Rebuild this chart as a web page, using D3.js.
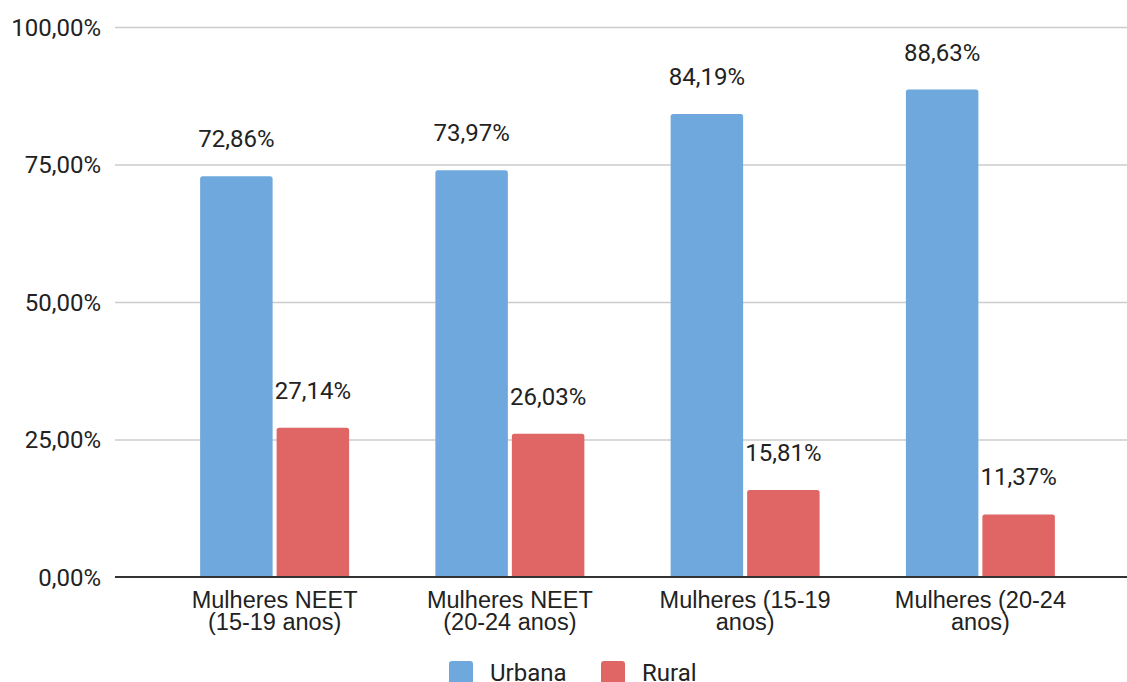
<!DOCTYPE html>
<html>
<head>
<meta charset="utf-8">
<script src="https://cdn.jsdelivr.net/npm/d3@7"></script>
<style>
  html, body { margin: 0; padding: 0; background: #fff; }
  svg { display: block; font-family: Roboto, "Noto Sans", sans-serif; }
</style>
</head>
<body>
<svg id="chart" width="1127" height="682"></svg>
<script>
// Categories (with their wrapped axis label lines)
const categories = ["Mulheres NEET (15-19 anos)", "Mulheres NEET (20-24 anos)", "Mulheres (15-19 anos)", "Mulheres (20-24 anos)"];
const categoryLines = [
  ["Mulheres NEET", "(15-19 anos)"],
  ["Mulheres NEET", "(20-24 anos)"],
  ["Mulheres (15-19", "anos)"],
  ["Mulheres (20-24", "anos)"]
];
const seriesNames = ["Urbana", "Rural"];
const urbana = [72.86, 73.97, 84.19, 88.63];
const rural = [27.14, 26.03, 15.81, 11.37];
const yTicks = [0, 25, 50, 75, 100];
const colors = ["#6fa8dc", "#e06666"];

const fmt = v => v.toFixed(2).replace(".", ",") + "%";
const FS = 24;

const svg = d3.select("#chart");
const gridLeft = 115, gridRight = 1127;

const y = d3.scaleLinear().domain([0, 100]).range([577, 27]);
const x0 = d3.scaleBand().domain(categories).range([157, 1098])
  .paddingInner(0.3667).paddingOuter(0.1833);
const x1 = d3.scaleBand().domain(seriesNames).range([0, x0.bandwidth()]).paddingInner(0.0523);

const data = categories.map((c, i) => ({ cat: c, values: [urbana[i], rural[i]] }));

// Gridlines + y tick labels
const yAxis = d3.axisLeft(y).tickValues(yTicks).tickSize(0).tickPadding(14)
  .tickFormat(d => fmt(d));
const yG = svg.append("g").attr("transform", `translate(${gridLeft},0)`).call(yAxis);
yG.select(".domain").remove();
yG.selectAll("text").attr("font-size", FS).attr("fill", "#222")
  .attr("font-family", "Roboto, sans-serif").attr("dy", "0.35em");
yG.selectAll(".tick").append("line")
  .attr("x1", 0).attr("x2", gridRight - gridLeft)
  .attr("stroke", "#cccccc").attr("stroke-width", 1.5)
  .attr("display", d => d === 0 ? "none" : null);

// Bars with slightly rounded top corners
function topRounded(x, yTop, w, h, r) {
  r = Math.min(r, h, w / 2);
  return `M${x},${yTop + h}V${yTop + r}Q${x},${yTop} ${x + r},${yTop}` +
         `H${x + w - r}Q${x + w},${yTop} ${x + w},${yTop + r}V${yTop + h}Z`;
}

const groups = svg.append("g").selectAll("g").data(data).join("g")
  .attr("transform", d => `translate(${x0(d.cat)},0)`);

groups.selectAll("path").data(d => d.values.map((v, j) => ({ s: seriesNames[j], v, j })))
  .join("path")
  .attr("fill", d => colors[d.j])
  .attr("d", d => topRounded(x1(d.s), y(d.v), x1.bandwidth(), y(0) - y(d.v), 2.5));

groups.selectAll("text.val").data(d => d.values.map((v, j) => ({ s: seriesNames[j], v, j })))
  .join("text").attr("class", "val")
  .attr("x", d => x1(d.s) + x1.bandwidth() / 2)
  .attr("y", d => y(d.v) - 29)
  .attr("text-anchor", "middle")
  .attr("font-size", FS).attr("fill", "#222")
  .text(d => fmt(d.v));

// Baseline
svg.append("line").attr("x1", gridLeft).attr("x2", gridRight)
  .attr("y1", y(0)).attr("y2", y(0))
  .attr("stroke", "#333").attr("stroke-width", 2);

// Category labels (two lines each)
const xAxis = d3.axisBottom(x0).tickSize(0).tickFormat("");
const xG = svg.append("g").attr("transform", `translate(0,${y(0)})`).call(xAxis);
xG.select(".domain").remove();
xG.selectAll(".tick").each(function(d, i) {
  const t = d3.select(this).append("text")
    .attr("text-anchor", "middle").attr("font-size", 23.5).attr("fill", "#222");
  categoryLines[i].forEach((line, k) => {
    t.append("tspan").attr("x", 0).attr("y", 30.5 + k * 22.8).text(line);
  });
});

// Legend
const legend = svg.append("g");
const legendX = [449, 601];
seriesNames.forEach((name, i) => {
  legend.append("rect").attr("x", legendX[i]).attr("y", 661).attr("width", 24).attr("height", 24)
    .attr("rx", 3).attr("fill", colors[i]);
  legend.append("text").attr("x", legendX[i] + 41).attr("y", 681)
    .attr("font-size", FS).attr("fill", "#222").text(name);
});
</script>
</body>
</html>
